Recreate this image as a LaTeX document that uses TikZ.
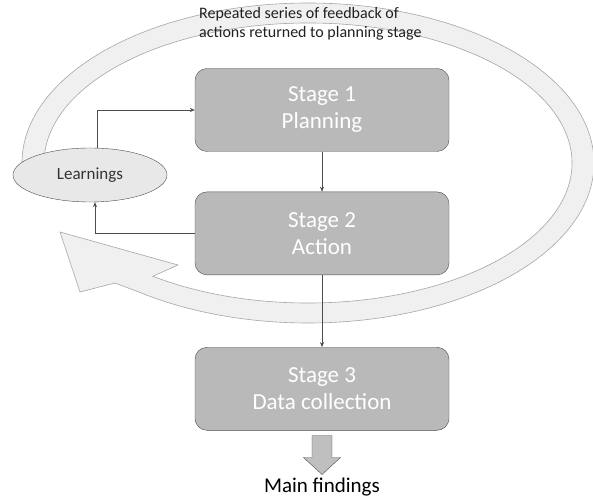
\documentclass[tikz,border=0pt]{standalone}
\usepackage{fontspec}
\setmainfont{Carlito}
\usetikzlibrary{positioning}
\usetikzlibrary{shapes.geometric}
\usetikzlibrary{arrows.meta}
\usetikzlibrary{calc}

\tikzset{
  stage/.style={draw=gray!60!black, fill=gray!55, rounded corners=12pt,
    minimum width=254pt, minimum height=83pt, text=white, align=center,
    font=\fontsize{23}{27}\selectfont},
  loopband/.style={draw=gray!70, fill=gray!12, line width=0.6pt},
  link/.style={draw=gray!60!black, line width=0.5pt, -{Stealth[length=5pt,width=4pt]}},
}

\begin{document}
\begin{tikzpicture}[x=1pt,y=1pt]
    \useasboundingbox (0,0) rectangle (593,503);

    % feedback loop
    \draw[loopband, shift={(308,340)}] (183:286 and 160)
        arc[start angle=183, end angle=-126, x radius=286, y radius=160]
        -- (-193,-120) -- (-228,-129) -- (-248,-69) -- (-130,-102)
        -- (-126:264 and 140)
        arc[start angle=-126, end angle=183, x radius=264, y radius=140] -- cycle;
    \node[anchor=north west, align=left, inner sep=0pt, text=gray!25!black,
        font=\fontsize{16}{19}\selectfont] (loopnote) at (199,496)
        {Repeated series of feedback of\\actions returned to planning stage};

    \node[stage] (s1) at (322,393) {Stage 1\\Planning};
    \node[stage, below=40pt of s1] (s2) {Stage 2\\Action};
    \node[stage, below=72pt of s2] (s3) {Stage 3\\Data collection};

    \node[ellipse, draw=gray!60!black, fill=gray!18, minimum width=154pt, minimum height=54pt,
        text=gray!40!black, font=\fontsize{17}{20}\selectfont] (learn) at (90,328) {Learnings};

    \draw[link] (s1) -- (s2);
    \draw[link] (s2) -- (s3);
    \draw[link] ([xshift=7pt]learn.north) |- (s1);
    \draw[link] (s2) -| ([xshift=5pt]learn.south);

    % output arrow
    \coordinate (tip) at ($(s3.south)+(0,-44)$);
    \draw[draw=gray!60!black, fill=gray!50] ($(s3.south)+(-10,-5)$) -- ++(20,0) -- ++(0,-22)
        -- ++(8.5,0) -- (tip) -- ($(s3.south)+(-18.5,-27)$) -- ++(8.5,0) -- cycle;
    \node[below=3pt of tip, inner sep=0pt, font=\fontsize{21}{25}\selectfont] (main) {Main findings};
\end{tikzpicture}
\end{document}
